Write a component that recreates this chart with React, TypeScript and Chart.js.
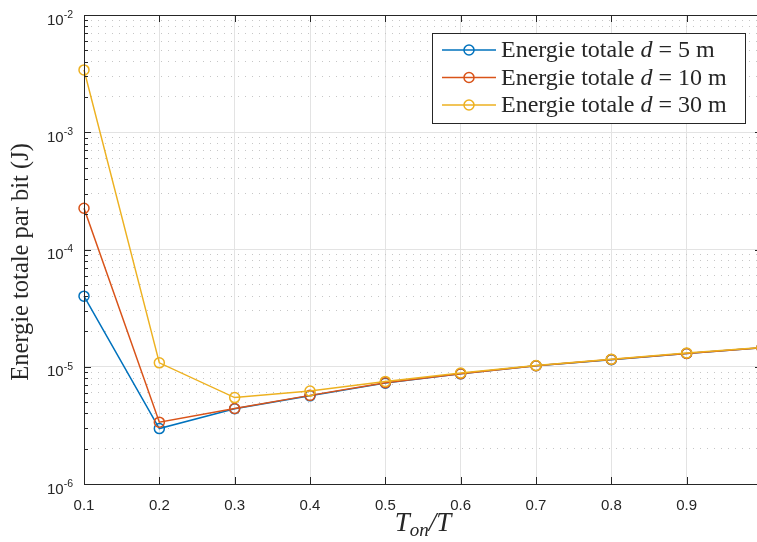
import React, { useEffect, useRef } from 'react';
import { Chart, registerables } from 'chart.js';

Chart.register(...registerables);

// ---------- data ----------
const xValues = [0.1, 0.2, 0.3, 0.4, 0.5, 0.6, 0.7, 0.8, 0.9, 1.0];
const distances = [5, 10, 30];
const energy5m = [4.0e-5, 2.97e-6, 4.38e-6, 5.65e-6, 7.25e-6, 8.7e-6, 1.02e-5, 1.15e-5, 1.3e-5, 1.45e-5];
const energy10m = [2.25e-4, 3.37e-6, 4.4e-6, 5.7e-6, 7.3e-6, 8.72e-6, 1.02e-5, 1.155e-5, 1.3e-5, 1.45e-5];
const energy30m = [3.4e-3, 1.08e-5, 5.46e-6, 6.2e-6, 7.5e-6, 8.85e-6, 1.025e-5, 1.16e-5, 1.31e-5, 1.46e-5];
const seriesColors = ['#0072BD', '#D95319', '#EDB120'];
const legendPrefix = 'Energie totale ';
const legendVar = 'd';
const yTitle = 'Energie totale par bit (J)';
const yMinExp = -6;
const yMaxExp = -2;
const xMin = 0.1;
const xMax = 1.0;

// ---------- helpers ----------
const yTickValues: number[] = [];
for (let e = yMinExp; e < yMaxExp; e++) {
  for (let s = 1; s <= 9; s++) yTickValues.push(Number((s * Math.pow(10, e)).toPrecision(3)));
}
yTickValues.push(Math.pow(10, yMaxExp));
const isDecade = (v: number) => Math.abs(Math.log10(v) - Math.round(Math.log10(v))) < 1e-6;

const AXIS_COLOR = '#262626';
const SERIF = '"Liberation Serif", "Times New Roman", serif';
const SANS = '"Liberation Sans", Arial, Helvetica, sans-serif';

const decorPlugin = {
  id: 'decor',
  afterDraw(chart: any) {
    const { ctx, chartArea: ca, scales } = chart;
    const xs = scales.x;
    const ys = scales.y;
    ctx.save();
    ctx.strokeStyle = AXIS_COLOR;
    ctx.lineWidth = 1;
    // inward ticks
    ctx.beginPath();
    yTickValues.forEach((v) => {
      const py = Math.round(ys.getPixelForValue(v)) + 0.5;
      const len = isDecade(v) ? 7 : 4;
      ctx.moveTo(ca.left, py);
      ctx.lineTo(ca.left + len, py);
      ctx.moveTo(ca.right, py);
      ctx.lineTo(ca.right - len, py);
    });
    xValues.forEach((v) => {
      const px = Math.round(xs.getPixelForValue(v)) + 0.5;
      ctx.moveTo(px, ca.bottom);
      ctx.lineTo(px, ca.bottom - 7);
      ctx.moveTo(px, ca.top);
      ctx.lineTo(px, ca.top + 7);
    });
    ctx.stroke();
    // box
    ctx.strokeRect(Math.round(ca.left) + 0.5, Math.round(ca.top) + 0.5, Math.round(ca.right - ca.left), Math.round(ca.bottom - ca.top));

    // y tick labels: 10^e
    ctx.fillStyle = AXIS_COLOR;
    ctx.textBaseline = 'middle';
    for (let e = yMinExp; e <= yMaxExp; e++) {
      const py = ys.getPixelForValue(Math.pow(10, e));
      const sup = String(e);
      ctx.font = `10.5px ${SANS}`;
      const supW = ctx.measureText(sup).width;
      const rightEdge = ca.left - 11;
      ctx.textAlign = 'right';
      ctx.fillText(sup, rightEdge, py);
      ctx.font = `15px ${SANS}`;
      ctx.fillText('10', rightEdge - supW, py + 5.5);
    }

    // y title (rotated)
    ctx.save();
    ctx.translate(22, 262);
    ctx.rotate(-Math.PI / 2);
    ctx.font = `24.5px ${SERIF}`;
    ctx.textAlign = 'center';
    ctx.textBaseline = 'middle';
    ctx.fillText(yTitle, 0, 0);
    ctx.restore();

    // x title: T_on / T
    {
      const cx = (ca.left + ca.right) / 2;
      const by = 531;
      const fMain = `italic 27px ${SERIF}`;
      const fSub = `italic 19px ${SERIF}`;
      const parts: [string, string, number][] = [
        ['T', fMain, 0],
        ['on', fSub, 5],
        ['/T', fMain, 0],
      ];
      let total = 0;
      parts.forEach(([t, f]) => { ctx.font = f; total += ctx.measureText(t).width; });
      let px = cx - total / 2;
      ctx.textAlign = 'left';
      ctx.textBaseline = 'alphabetic';
      parts.forEach(([t, f, dy]) => {
        ctx.font = f;
        ctx.fillText(t, px, by + dy);
        px += ctx.measureText(t).width;
      });
    }

    // legend
    {
      const bx = 432.5, byTop = 33.5, bw = 313, bh = 90;
      ctx.fillStyle = '#ffffff';
      ctx.fillRect(bx, byTop, bw, bh);
      ctx.strokeStyle = AXIS_COLOR;
      ctx.lineWidth = 1;
      ctx.strokeRect(bx, byTop, bw, bh);
      chart.data.datasets.forEach((ds: any, i: number) => {
        const ry = 50 + i * 27.5;
        ctx.strokeStyle = ds.borderColor;
        ctx.lineWidth = 1.5;
        ctx.beginPath();
        ctx.moveTo(442, ry);
        ctx.lineTo(496, ry);
        ctx.stroke();
        ctx.beginPath();
        ctx.arc(469, ry, 5, 0, Math.PI * 2);
        ctx.stroke();
        ctx.fillStyle = AXIS_COLOR;
        ctx.textAlign = 'left';
        ctx.textBaseline = 'middle';
        let tx = 501;
        const segs: [string, string][] = [
          [legendPrefix, `24px ${SERIF}`],
          [legendVar, `italic 24px ${SERIF}`],
          [` = ${distances[i]} m`, `24px ${SERIF}`],
        ];
        segs.forEach(([t, f]) => {
          ctx.font = f;
          ctx.fillText(t, tx, ry + 1);
          tx += ctx.measureText(t).width;
        });
      });
    }
    ctx.restore();
  },
};

export default function App() {
  const canvasRef = useRef<HTMLCanvasElement | null>(null);

  useEffect(() => {
    if (!canvasRef.current) return;
    const seriesValues = [energy5m, energy10m, energy30m];
    const chart = new Chart(canvasRef.current, {
      type: 'line',
      data: {
        datasets: seriesValues.map((vals, i) => ({
          label: `${legendPrefix}${legendVar} = ${distances[i]} m`,
          data: xValues.map((x, k) => ({ x, y: vals[k] })),
          borderColor: seriesColors[i],
          backgroundColor: 'rgba(0,0,0,0)',
          borderWidth: 1.5,
          pointRadius: 5,
          pointBorderWidth: 1.5,
          pointBackgroundColor: 'rgba(0,0,0,0)',
          pointBorderColor: seriesColors[i],
          tension: 0,
          order: 2 - i,
          clip: { left: 10, top: 10, right: 0, bottom: 10 },
        })),
      },
      options: {
        animation: false,
        responsive: false,
        events: [],
        layout: { padding: { left: 0, right: 28, top: 15, bottom: 0 } },
        plugins: { legend: { display: false }, tooltip: { enabled: false }, title: { display: false } },
        scales: {
          x: {
            type: 'linear',
            min: xMin,
            max: xMax,
            afterBuildTicks: (scale: any) => {
              scale.ticks = xValues.map((v) => ({ value: v }));
            },
            afterFit: (scale: any) => {
              scale.height = 58;
            },
            ticks: {
              autoSkip: false,
              maxRotation: 0,
              padding: 13,
              color: AXIS_COLOR,
              font: { family: SANS, size: 15 },
              callback: (v: any) => (Math.abs(v - 1) < 1e-9 ? '1' : Number(v).toFixed(1)),
            },
            grid: { color: '#e3e3e3', lineWidth: 1, drawTicks: false },
            border: { display: false },
          },
          y: {
            type: 'logarithmic',
            position: 'left',
            min: Math.pow(10, yMinExp),
            max: Math.pow(10, yMaxExp),
            afterBuildTicks: (scale: any) => {
              scale.ticks = yTickValues.map((v) => ({ value: v, major: isDecade(v) }));
            },
            afterFit: (scale: any) => {
              scale.width = 84;
            },
            ticks: { display: false },
            grid: {
              drawTicks: false,
              lineWidth: 1,
              color: (c: any) => (c.tick && isDecade(c.tick.value) ? '#e3e3e3' : 'rgba(0,0,0,0)'),
            },
            border: { display: false },
          },
          yMinor: {
            type: 'logarithmic',
            position: 'left',
            min: Math.pow(10, yMinExp),
            max: Math.pow(10, yMaxExp),
            afterBuildTicks: (scale: any) => {
              scale.ticks = yTickValues.map((v) => ({ value: v }));
            },
            afterFit: (scale: any) => {
              scale.width = 0;
            },
            ticks: { display: false },
            grid: {
              drawTicks: false,
              lineWidth: 1,
              color: (c: any) => (c.tick && !isDecade(c.tick.value) ? '#c6c6c6' : 'rgba(0,0,0,0)'),
            },
            border: { display: false, dash: [1, 6] },
          },
        },
      },
      plugins: [decorPlugin],
    } as any);
    return () => chart.destroy();
  }, []);

  return (
    <div style={{ position: 'fixed', left: 0, top: 0, width: 757, height: 542, overflow: 'hidden', background: '#fff' }}>
      <canvas ref={canvasRef} width={790} height={542} style={{ display: 'block' }} />
    </div>
  );
}
